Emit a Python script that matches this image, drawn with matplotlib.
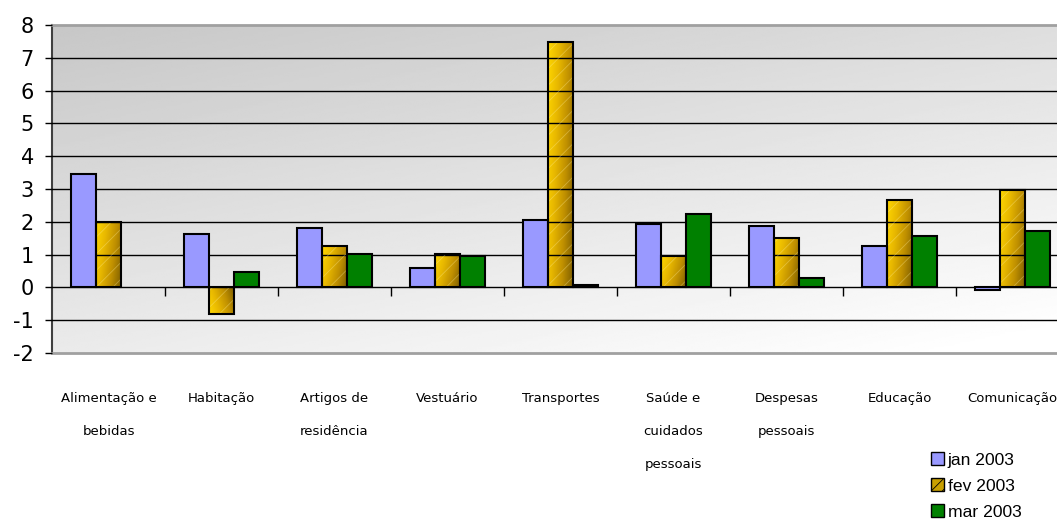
import numpy as np
import matplotlib
matplotlib.use('Agg')
import matplotlib.pyplot as plt
from matplotlib.colors import LinearSegmentedColormap
from matplotlib.patches import Patch

# Categories and monthly values.
categories = ['Alimentação e\nbebidas', 'Habitação', 'Artigos de\nresidência',
              'Vestuário', 'Transportes', 'Saúde e\ncuidados\npessoais',
              'Despesas\npessoais', 'Educação', 'Comunicação']
jan2003 = [3.47, 1.64, 1.81, 0.60, 2.07, 1.94, 1.88, 1.27, -0.07]
fev2003 = [2.00, -0.80, 1.26, 1.03, 7.49, 0.95, 1.52, 2.67, 2.98]
mar2003 = [np.nan, 0.47, 1.03, 0.95, 0.06, 2.25, 0.30, 1.58, 1.71]
seriesNames = ['jan 2003', 'fev 2003', 'mar 2003']
yTicks = list(range(-2, 9))

plt.rcParams['axes.unicode_minus'] = False
plt.rcParams['hatch.linewidth'] = 0.6

fig = plt.figure(figsize=(10.57, 5.19), dpi=100)
# Plot area runs past the right edge of the picture, as in the reference.
ax = fig.add_axes([52/1057, 1 - 353/519, (1069 - 52)/1057, 328/519])

# Gray diagonal gradient background.
yy, xx = np.mgrid[0:1:200j, 0:1:200j]
bg = 0.78 + 0.09*xx + 0.14*yy
ax.imshow(bg, extent=[0, 1, 0, 1], transform=ax.transAxes, cmap='gray',
          vmin=0, vmax=1, aspect='auto', zorder=0, origin='upper')

x = np.arange(len(categories))
w = 0.22
edge = dict(edgecolor='black', linewidth=1.5, zorder=3)

ax.bar(x - w, jan2003, w, color='#9999FF', **edge)
fevBars = ax.bar(x, fev2003, w, color='none', **edge)
ax.bar(x + w, mar2003, w, color='#008000', **edge)

# Gold gradient fill (bright top-left, dark bottom-right) for the fev bars.
goldMap = LinearSegmentedColormap.from_list(
    'gold', ['#FFD700', '#E8B800', '#C09000', '#806000'])
gy, gx = np.mgrid[0:1:64j, 0:1:64j]
grad = 0.75*gx + 0.25*gy
for b in fevBars:
    x0, y0 = b.get_x(), b.get_y()
    ext = [x0, x0 + b.get_width(), y0, y0 + b.get_height()]
    im = ax.imshow(grad, extent=ext, cmap=goldMap, aspect='auto',
                   zorder=2.4, origin='upper')
    im.set_clip_path(b)
# Faint light hatching over the gold bars.
ax.bar(x, fev2003, w, color='none', edgecolor='#FFF0A0', linewidth=0,
       hatch='//', alpha=0.35, zorder=2.6)

ax.set_xlim(-0.5, len(categories) - 0.5)
ax.set_ylim(-2, 8)
ax.set_yticks(yTicks)
ax.yaxis.grid(True, color='black', linewidth=1)
ax.set_axisbelow(False)
gls = ax.get_ygridlines()
for gl in gls:
    gl.set_zorder(1)
gls[0].set_visible(False)
gls[-1].set_visible(False)
ax.tick_params(axis='y', labelsize=15, length=5, width=1, pad=8,
               direction='out', colors='black')

# Category boundary ticks on the zero line.
ax.vlines(np.arange(0.5, len(categories) - 0.5), -0.25, 0, color='black',
          linewidth=1, zorder=2)

ax.set_xticks(x)
ax.set_xticklabels(categories, fontsize=9.5, linespacing=3.0, va='top')
ax.tick_params(axis='x', length=0, pad=28)

for side in ['top', 'bottom', 'right']:
    ax.spines[side].set_color('#a0a0a0')
    ax.spines[side].set_linewidth(2)
ax.spines['left'].set_color('#404040')
ax.spines['left'].set_linewidth(1.5)

handles = [Patch(facecolor='#9999FF', edgecolor='black'),
           Patch(facecolor='#C9A000', edgecolor='black', hatch='///'),
           Patch(facecolor='#008000', edgecolor='black')]
fig.legend(handles, seriesNames, loc='upper left',
           bbox_to_anchor=(931/1057, 1 - 452/519), frameon=False,
           prop={'family': 'Liberation Sans', 'size': 12.6},
           handlelength=0.75, handleheight=0.75, handletextpad=0.2,
           labelspacing=0.61, borderpad=0, borderaxespad=0)

fig.savefig('out.png', dpi=100)
